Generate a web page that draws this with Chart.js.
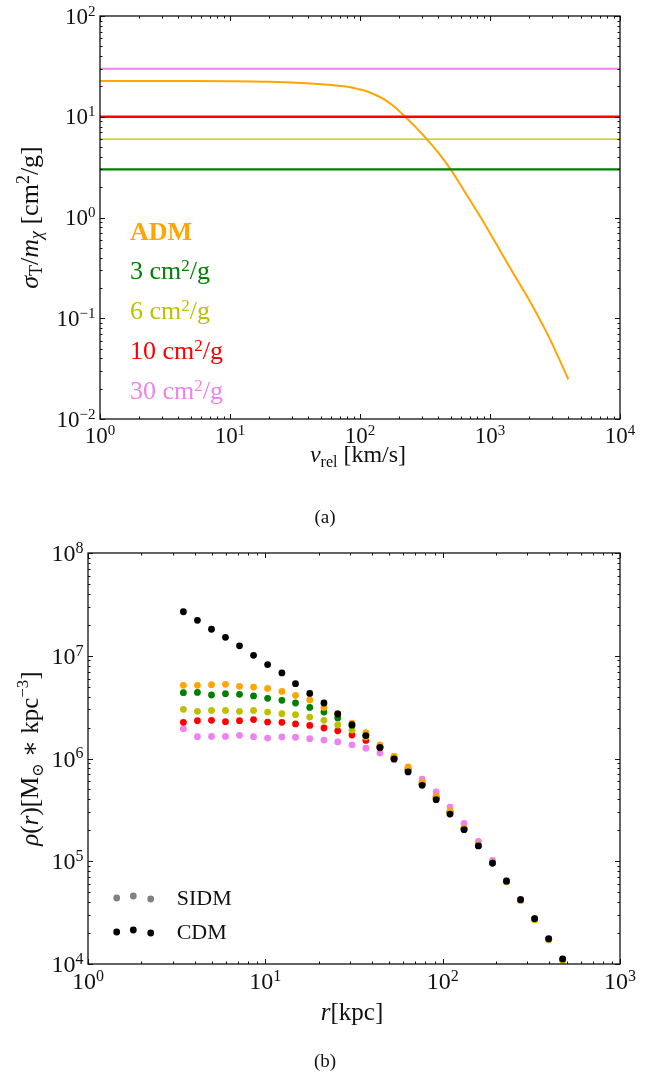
<!DOCTYPE html>
<html>
<head>
<meta charset="utf-8">
<script src="https://cdn.jsdelivr.net/npm/chart.js@4.4.1/dist/chart.umd.min.js"></script>
<style>
  html, body { margin: 0; padding: 0; background: #fff; }
  #wrap { position: relative; width: 657px; height: 1077px; }
  canvas { position: absolute; left: 0; }
  #crossSection { top: 0; }
  #densityProfile { top: 530px; }
</style>
</head>
<body>
<div id="wrap">
  <canvas id="crossSection" width="657" height="530"></canvas>
  <canvas id="densityProfile" width="657" height="547"></canvas>
</div>
<script>
// ---- panel (a): cross section vs relative velocity ----
const vRel = [1, 5, 10, 20, 35, 50, 65, 80, 95, 106, 120, 142, 160, 186, 222, 270, 326, 400, 498, 623,
  838, 1124, 1510, 2030, 2730, 3300, 4000];
const sigmaADM = [22.6, 22.6, 22.5, 22.2, 21.6, 21.0, 20.4, 19.8, 18.9, 18.3, 17.3, 15.7, 14.4, 12.4, 10.0, 7.8, 6.0, 4.4, 3.0, 1.9,
  1.03, 0.54, 0.279, 0.147, 0.072, 0.043, 0.0248];
const constSigma = [3, 6, 10, 30];
const constNames = ['3', '6', '10', '30'];
const vRange = [1, 1e4];
const sigmaRange = [1e-2, 1e2];
const vTickExp = [0, 1, 2, 3, 4];
const sigmaTickExp = [-2, -1, 0, 1, 2];

// ---- panel (b): density profiles ----
const radius = [3.45, 4.14, 4.97, 5.96, 7.15, 8.58, 10.3, 12.4, 14.8, 17.8, 21.4, 25.6, 30.8, 36.9,
  44.3, 53.2, 63.8, 76.6, 91.9, 110, 132, 159, 191, 229, 275, 330, 396, 475];
const rhoCDM = [2.68e7, 2.21e7, 1.81e7, 1.51e7, 1.25e7, 1.01e7, 8.2e6, 6.8e6, 5.35e6, 4.3e6, 3.47e6, 2.71e6, 2.13e6, 1.67e6,
  1.28e6, 9.9e5, 7.4e5, 5.48e5, 3.97e5, 2.88e5, 2.03e5, 1.41e5, 9.6e4, 6.4e4, 4.23e4, 2.76e4, 1.76e4, 1.12e4];
const rhoADM = [5.15e6, 5.15e6, 5.23e6, 5.27e6, 5.04e6, 4.96e6, 4.81e6, 4.50e6, 4.12e6, 3.71e6, 3.14e6, 2.75e6, 2.21e6, 1.78e6,
  1.36e6, 1.05e6, 8.3e5, 5.9e5, 4.3e5, 3.05e5, 2.1e5, 1.43e5, 9.6e4, 6.3e4, 4.15e4, 2.7e4, 1.72e4, 1.09e4];
const rho3 = [4.37e6, 4.40e6, 4.15e6, 4.27e6, 4.21e6, 4.06e6, 3.85e6, 3.68e6, 3.47e6, 3.14e6, 2.83e6, 2.48e6, 2.1e6, 1.68e6,
  1.30e6, 1.0e6, 7.6e5, 5.6e5, 4.1e5, 2.95e5, 2.06e5, 1.42e5, 9.6e4, 6.4e4, 4.2e4, 2.74e4, 1.74e4, 1.1e4];
const rho6 = [3.01e6, 2.88e6, 2.94e6, 2.94e6, 2.88e6, 2.94e6, 2.83e6, 2.73e6, 2.67e6, 2.53e6, 2.35e6, 2.12e6, 1.89e6, 1.62e6,
  1.30e6, 1.05e6, 8.1e5, 5.9e5, 4.3e5, 3.06e5, 2.1e5, 1.43e5, 9.7e4, 6.4e4, 4.2e4, 2.75e4, 1.75e4, 1.1e4];
const rho10 = [2.25e6, 2.33e6, 2.35e6, 2.28e6, 2.33e6, 2.39e6, 2.26e6, 2.25e6, 2.17e6, 2.10e6, 1.98e6, 1.86e6, 1.69e6, 1.50e6,
  1.27e6, 1.0e6, 7.8e5, 5.7e5, 4.2e5, 3.0e5, 2.08e5, 1.42e5, 9.6e4, 6.4e4, 4.2e4, 2.74e4, 1.74e4, 1.1e4];
const rho30 = [1.95e6, 1.63e6, 1.64e6, 1.64e6, 1.68e6, 1.63e6, 1.58e6, 1.62e6, 1.61e6, 1.56e6, 1.51e6, 1.45e6, 1.36e6, 1.26e6,
  1.13e6, 9.7e5, 8.1e5, 6.3e5, 4.72e5, 3.37e5, 2.34e5, 1.56e5, 1.02e5, 6.5e4, 4.25e4, 2.74e4, 1.74e4, 1.1e4];
const rRange = [1, 1e3];
const rhoRange = [1e4, 1e8];
const rTickExp = [0, 1, 2, 3];
const rhoTickExp = [4, 5, 6, 7, 8];

const ORANGE = '#ffa500', GREEN = '#008000', OLIVE = '#bfbf00', RED = '#ff0000', VIOLET = '#ee82ee';
const constColors = [GREEN, OLIVE, RED, VIOLET];
const SERIF = "'Liberation Serif', 'DejaVu Serif', serif";

function setFont(ctx, p) {
  ctx.font = (p.italic ? 'italic ' : '') + (p.bold ? 'bold ' : '') + p.size + 'px ' + SERIF;
}

// draw a run of text pieces (sub/superscripts via dy)
function drawRich(ctx, parts, x, y, align) {
  let w = 0;
  parts.forEach(p => { setFont(ctx, p); w += ctx.measureText(p.t).width; });
  let cx = align === 'center' ? x - w / 2 : align === 'right' ? x - w : x;
  ctx.textAlign = 'left';
  ctx.textBaseline = 'alphabetic';
  parts.forEach(p => {
    setFont(ctx, p);
    ctx.fillText(p.t, cx, y + (p.dy || 0));
    cx += ctx.measureText(p.t).width;
  });
}

function powerLabel(exp, size) {
  const e = exp < 0 ? '\u2212' + (-exp) : String(exp);
  return [{ t: '10', size }, { t: e, size: Math.round(size * 0.66), dy: -size * 0.34 }];
}

// frame, inward log ticks on all sides, power-of-ten labels
function makeFrame(cfg) {
  return {
    id: 'logFrame',
    afterDatasetsDraw(chart) {
      const { ctx, chartArea: a, scales: { x, y } } = chart;
      ctx.save();
      ctx.strokeStyle = '#111';
      ctx.lineWidth = 1;
      const ticks = (scale, exps, horiz) => {
        exps.forEach((e, i) => {
          for (let m = 1; m <= 9; m++) {
            if (i === exps.length - 1 && m > 1) break;
            const p = Math.round(scale.getPixelForValue(m * Math.pow(10, e))) + 0.5;
            const len = m === 1 ? 5 : 2.5;
            ctx.beginPath();
            if (horiz) {
              ctx.moveTo(p, a.bottom); ctx.lineTo(p, a.bottom - len);
              ctx.moveTo(p, a.top); ctx.lineTo(p, a.top + len);
            } else {
              ctx.moveTo(a.left, p); ctx.lineTo(a.left + len, p);
              ctx.moveTo(a.right, p); ctx.lineTo(a.right - len, p);
            }
            ctx.stroke();
          }
        });
      };
      ticks(x, cfg.xExp, true);
      ticks(y, cfg.yExp, false);
      ctx.lineWidth = 1.3;
      ctx.strokeRect(a.left, a.top, a.right - a.left, a.bottom - a.top);

      ctx.fillStyle = '#111';
      cfg.xExp.forEach(e => {
        drawRich(ctx, powerLabel(e, cfg.size), x.getPixelForValue(Math.pow(10, e)), a.bottom + cfg.xDy, 'center');
      });
      cfg.yExp.forEach(e => {
        drawRich(ctx, powerLabel(e, cfg.size), a.left - 4.5, y.getPixelForValue(Math.pow(10, e)) + cfg.yDy, 'right');
      });
      ctx.restore();
    }
  };
}

function rotatedTitle(ctx, parts, x, y) {
  ctx.save();
  ctx.translate(x, y);
  ctx.rotate(-Math.PI / 2);
  drawRich(ctx, parts, 0, 0, 'center');
  ctx.restore();
}

const crossAnnot = {
  id: 'crossAnnot',
  afterDraw(chart) {
    const { ctx, chartArea: a } = chart;
    ctx.save();
    ctx.fillStyle = '#111';
    drawRich(ctx, [
      { t: 'v', italic: true, size: 24 },
      { t: 'rel', size: 16, dy: 5 },
      { t: ' [km/s]', size: 24 }
    ], 358, 462, 'center');
    rotatedTitle(ctx, [
      { t: '\u03c3', italic: true, size: 26 },
      { t: 'T', size: 18, dy: 4 },
      { t: '/', size: 26 },
      { t: 'm', italic: true, size: 26 },
      { t: '\u03c7', italic: true, size: 18, dy: 4 },
      { t: ' [cm', size: 26 },
      { t: '2', size: 18, dy: -9 },
      { t: '/g]', size: 26 }
    ], 38, (a.top + a.bottom) / 2);

    ctx.fillStyle = ORANGE;
    drawRich(ctx, [{ t: 'ADM', bold: true, size: 26 }], 130, 240, 'left');
    constNames.forEach((n, i) => {
      ctx.fillStyle = constColors[i];
      drawRich(ctx, [
        { t: n + ' cm', size: 26 },
        { t: '2', size: 17, dy: -8 },
        { t: '/g', size: 26 }
      ], 130, 279 + 40 * i, 'left');
    });

    ctx.fillStyle = '#111';
    drawRich(ctx, [{ t: '(a)', size: 19 }], 325, 523, 'center');
    ctx.restore();
  }
};

const densityAnnot = {
  id: 'densityAnnot',
  afterDraw(chart) {
    const { ctx, chartArea: a } = chart;
    ctx.save();
    ctx.fillStyle = '#111';
    drawRich(ctx, [
      { t: 'r', italic: true, size: 25 },
      { t: '[kpc]', size: 25 }
    ], 352, 490, 'center');
    rotatedTitle(ctx, [
      { t: '\u03c1', italic: true, size: 25 },
      { t: '(', size: 25 },
      { t: 'r', italic: true, size: 25 },
      { t: ')[M', size: 25 },
      { t: '\u2299', size: 16, dy: 5 },
      { t: ' \u2217 kpc', size: 25 },
      { t: '\u22123', size: 17, dy: -10 },
      { t: ']', size: 25 }
    ], 38, (a.top + a.bottom) / 2);

    // legend: scatter handles
    const handles = [['SIDM', '#808080', 368], ['CDM', '#000000', 402]];
    const offs = [[116.7, 0], [133.3, -2], [150.7, 1]];
    handles.forEach(([name, col, cy]) => {
      ctx.fillStyle = col;
      offs.forEach(([hx, dy]) => {
        ctx.beginPath();
        ctx.arc(hx, cy + dy, 3.4, 0, Math.PI * 2);
        ctx.fill();
      });
      ctx.fillStyle = '#111';
      drawRich(ctx, [{ t: name, size: 22 }], 176.7, cy + 7, 'left');
    });

    drawRich(ctx, [{ t: '(b)', size: 19 }], 325, 537, 'center');
    ctx.restore();
  }
};

function toPoints(xs, ys) {
  return xs.map((v, i) => ({ x: v, y: ys[i] }));
}

function buildCrossSection() {
  const ctx = document.getElementById('crossSection').getContext('2d');
  const lineWidths = [2.2, 1.1, 2.4, 2];
  return new Chart(ctx, {
    type: 'line',
    data: {
      datasets: [
        ...constSigma.map((s, i) => ({
          data: toPoints(vRange, [s, s]),
          borderColor: constColors[i],
          borderWidth: lineWidths[i],
          pointRadius: 0,
          order: 1
        })),
        {
          data: toPoints(vRel, sigmaADM),
          borderColor: ORANGE,
          borderWidth: 2,
          pointRadius: 0,
          cubicInterpolationMode: 'monotone',
          order: 2
        }
      ]
    },
    options: {
      responsive: false,
      animation: false,
      events: [],
      layout: { padding: { left: 100, top: 16, right: 37, bottom: 111 } },
      plugins: { legend: { display: false }, tooltip: { enabled: false } },
      scales: {
        x: { type: 'logarithmic', min: vRange[0], max: vRange[1], display: false },
        y: { type: 'logarithmic', min: sigmaRange[0], max: sigmaRange[1], display: false }
      }
    },
    plugins: [makeFrame({ xExp: vTickExp, yExp: sigmaTickExp, size: 23, xDy: 24, yDy: 7.5 }), crossAnnot]
  });
}

function buildDensity() {
  const ctx = document.getElementById('densityProfile').getContext('2d');
  const series = [
    [rhoCDM, '#000000', 0],
    [rhoADM, ORANGE, 1],
    [rho3, GREEN, 2],
    [rho6, OLIVE, 3],
    [rho10, RED, 4],
    [rho30, VIOLET, 5]
  ];
  return new Chart(ctx, {
    type: 'scatter',
    data: {
      datasets: series.map(([ys, col, ord]) => ({
        data: toPoints(radius, ys),
        backgroundColor: col,
        borderWidth: 0,
        pointRadius: 3.4,
        order: ord
      }))
    },
    options: {
      responsive: false,
      animation: false,
      events: [],
      layout: { padding: { left: 88, top: 23, right: 37, bottom: 113 } },
      plugins: { legend: { display: false }, tooltip: { enabled: false } },
      scales: {
        x: { type: 'logarithmic', min: rRange[0], max: rRange[1], display: false },
        y: { type: 'logarithmic', min: rhoRange[0], max: rhoRange[1], display: false }
      }
    },
    plugins: [makeFrame({ xExp: rTickExp, yExp: rhoTickExp, size: 24, xDy: 25, yDy: 8 }), densityAnnot]
  });
}

document.addEventListener('DOMContentLoaded', () => {
  buildCrossSection();
  buildDensity();
});
</script>
</body>
</html>
